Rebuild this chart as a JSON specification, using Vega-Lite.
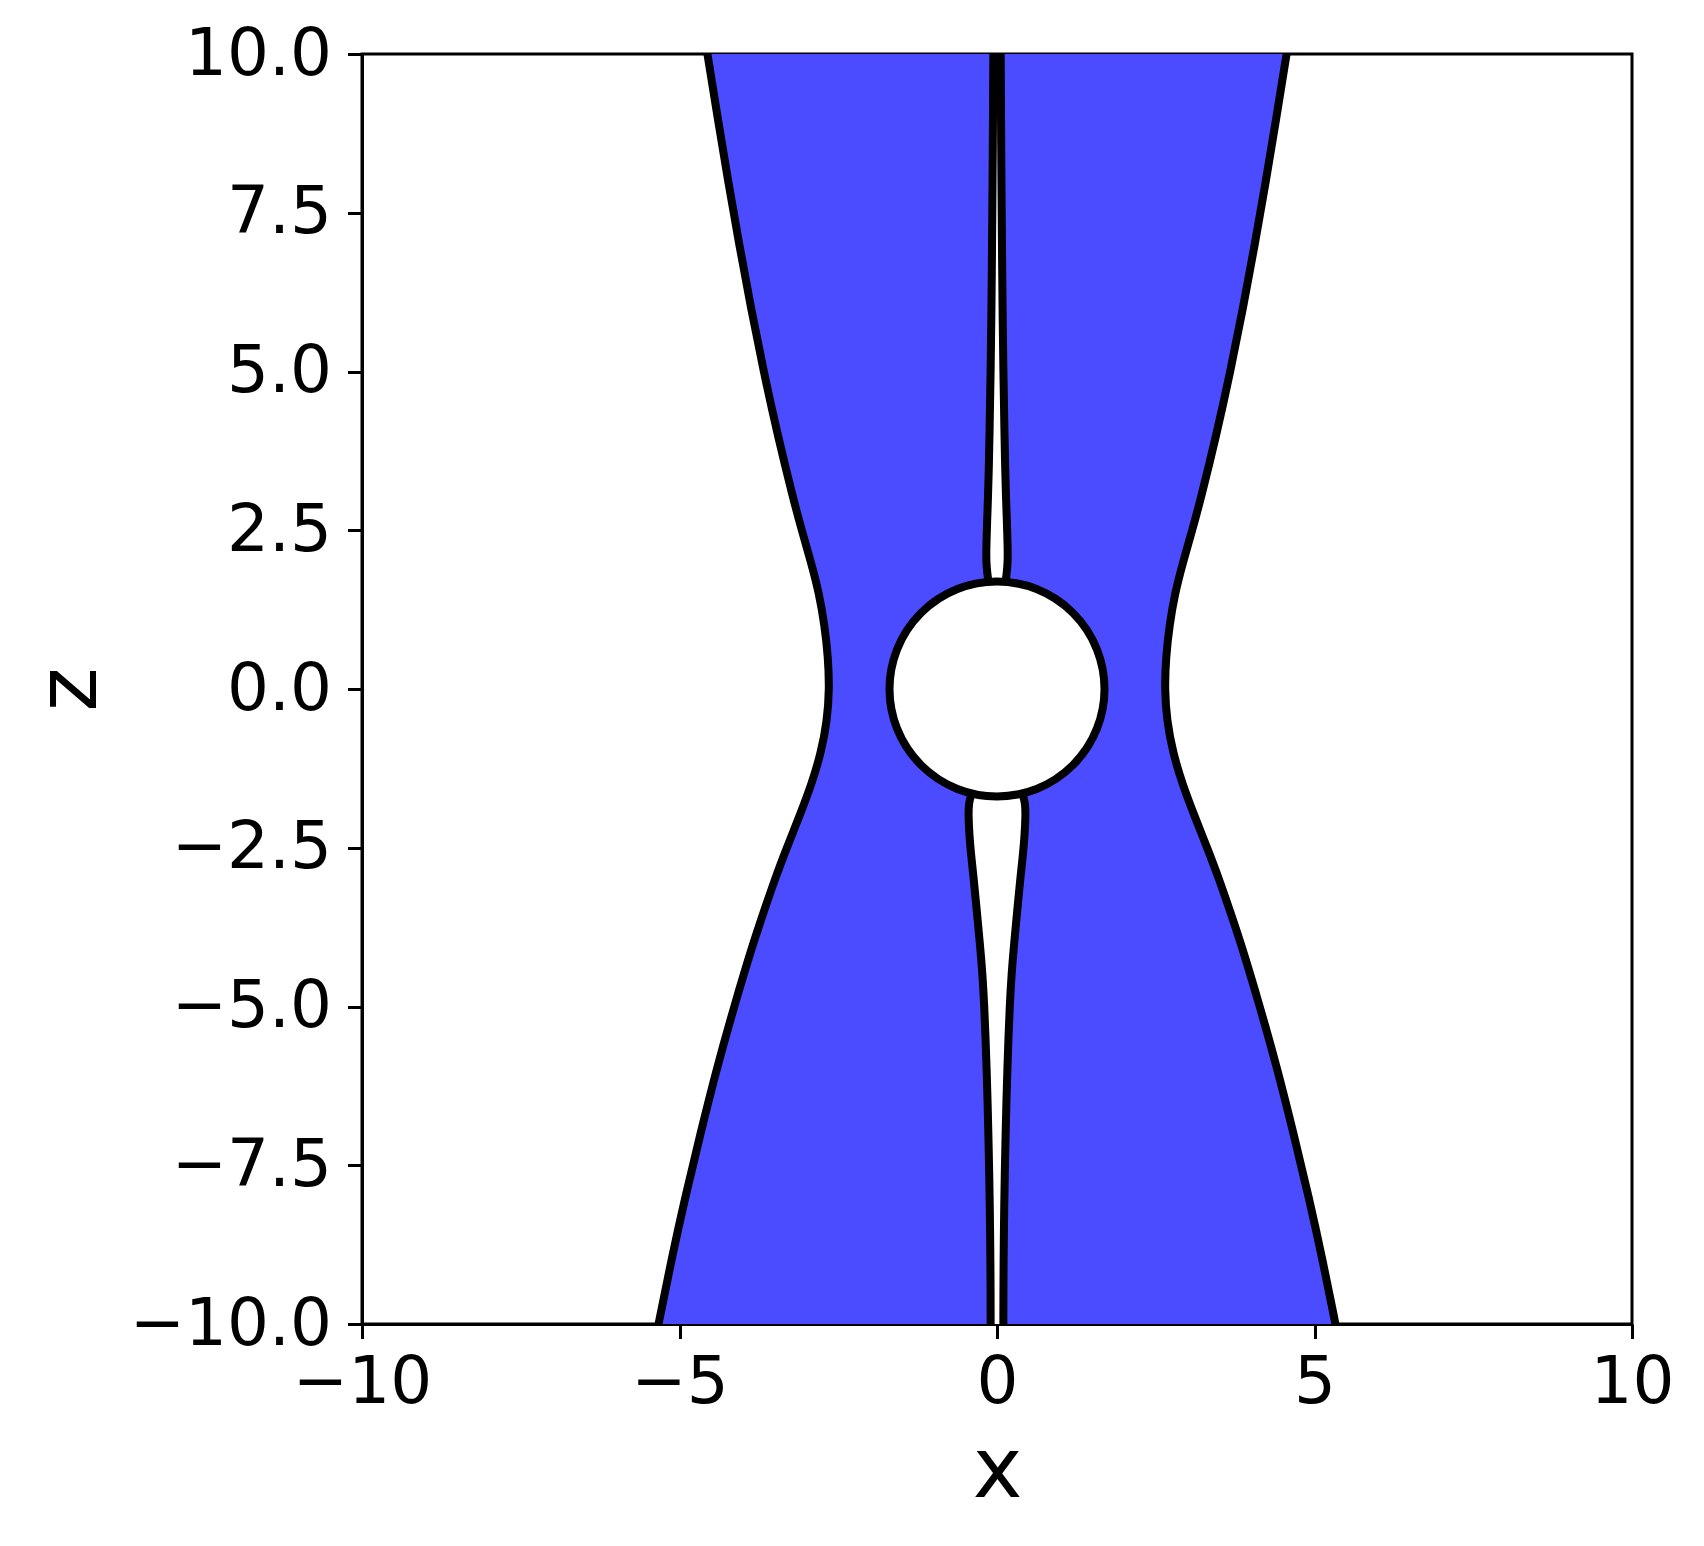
{
  "$schema": "https://vega.github.io/schema/vega-lite/v6.json",
  "width": 1270,
  "height": 1270,
  "autosize": "none",
  "padding": {"left": 362, "top": 54, "right": 72, "bottom": 222},
  "background": "white",
  "datasets": {
    "outer": [
      {"side": "left", "seq": 1, "z": -10, "x": -5.33},
      {"side": "left", "seq": 2, "z": -9, "x": -5.13},
      {"side": "left", "seq": 3, "z": -8, "x": -4.91},
      {"side": "left", "seq": 4, "z": -7, "x": -4.67},
      {"side": "left", "seq": 5, "z": -6, "x": -4.42},
      {"side": "left", "seq": 6, "z": -5, "x": -4.14},
      {"side": "left", "seq": 7, "z": -4, "x": -3.84},
      {"side": "left", "seq": 8, "z": -3.5, "x": -3.67},
      {"side": "left", "seq": 9, "z": -3, "x": -3.5},
      {"side": "left", "seq": 10, "z": -2.5, "x": -3.31},
      {"side": "left", "seq": 11, "z": -2, "x": -3.11},
      {"side": "left", "seq": 12, "z": -1.5, "x": -2.92},
      {"side": "left", "seq": 13, "z": -1, "x": -2.77},
      {"side": "left", "seq": 14, "z": -0.5, "x": -2.675},
      {"side": "left", "seq": 15, "z": 0, "x": -2.64},
      {"side": "left", "seq": 16, "z": 0.5, "x": -2.66},
      {"side": "left", "seq": 17, "z": 1, "x": -2.715},
      {"side": "left", "seq": 18, "z": 1.5, "x": -2.8},
      {"side": "left", "seq": 19, "z": 2, "x": -2.93},
      {"side": "left", "seq": 20, "z": 2.5, "x": -3.075},
      {"side": "left", "seq": 21, "z": 3, "x": -3.21},
      {"side": "left", "seq": 22, "z": 4, "x": -3.455},
      {"side": "left", "seq": 23, "z": 5, "x": -3.675},
      {"side": "left", "seq": 24, "z": 6, "x": -3.875},
      {"side": "left", "seq": 25, "z": 7, "x": -4.06},
      {"side": "left", "seq": 26, "z": 8, "x": -4.235},
      {"side": "left", "seq": 27, "z": 9, "x": -4.4},
      {"side": "left", "seq": 28, "z": 10, "x": -4.56},
      {"side": "right", "seq": 29, "z": 10, "x": 4.56},
      {"side": "right", "seq": 30, "z": 9, "x": 4.4},
      {"side": "right", "seq": 31, "z": 8, "x": 4.235},
      {"side": "right", "seq": 32, "z": 7, "x": 4.06},
      {"side": "right", "seq": 33, "z": 6, "x": 3.875},
      {"side": "right", "seq": 34, "z": 5, "x": 3.675},
      {"side": "right", "seq": 35, "z": 4, "x": 3.455},
      {"side": "right", "seq": 36, "z": 3, "x": 3.21},
      {"side": "right", "seq": 37, "z": 2.5, "x": 3.075},
      {"side": "right", "seq": 38, "z": 2, "x": 2.93},
      {"side": "right", "seq": 39, "z": 1.5, "x": 2.8},
      {"side": "right", "seq": 40, "z": 1, "x": 2.715},
      {"side": "right", "seq": 41, "z": 0.5, "x": 2.66},
      {"side": "right", "seq": 42, "z": 0, "x": 2.64},
      {"side": "right", "seq": 43, "z": -0.5, "x": 2.675},
      {"side": "right", "seq": 44, "z": -1, "x": 2.77},
      {"side": "right", "seq": 45, "z": -1.5, "x": 2.92},
      {"side": "right", "seq": 46, "z": -2, "x": 3.11},
      {"side": "right", "seq": 47, "z": -2.5, "x": 3.31},
      {"side": "right", "seq": 48, "z": -3, "x": 3.5},
      {"side": "right", "seq": 49, "z": -3.5, "x": 3.67},
      {"side": "right", "seq": 50, "z": -4, "x": 3.84},
      {"side": "right", "seq": 51, "z": -5, "x": 4.14},
      {"side": "right", "seq": 52, "z": -6, "x": 4.42},
      {"side": "right", "seq": 53, "z": -7, "x": 4.67},
      {"side": "right", "seq": 54, "z": -8, "x": 4.91},
      {"side": "right", "seq": 55, "z": -9, "x": 5.13},
      {"side": "right", "seq": 56, "z": -10, "x": 5.33}
    ],
    "slits": [
      {"part": "upper", "side": "left", "seq": 1, "z": 1.55, "x": -0.12},
      {"part": "upper", "side": "left", "seq": 2, "z": 1.65, "x": -0.13},
      {"part": "upper", "side": "left", "seq": 3, "z": 1.8, "x": -0.15},
      {"part": "upper", "side": "left", "seq": 4, "z": 1.95, "x": -0.165},
      {"part": "upper", "side": "left", "seq": 5, "z": 2.1, "x": -0.17},
      {"part": "upper", "side": "left", "seq": 6, "z": 2.3, "x": -0.166},
      {"part": "upper", "side": "left", "seq": 7, "z": 2.6, "x": -0.157},
      {"part": "upper", "side": "left", "seq": 8, "z": 3, "x": -0.142},
      {"part": "upper", "side": "left", "seq": 9, "z": 3.5, "x": -0.128},
      {"part": "upper", "side": "left", "seq": 10, "z": 4, "x": -0.118},
      {"part": "upper", "side": "left", "seq": 11, "z": 5, "x": -0.1},
      {"part": "upper", "side": "left", "seq": 12, "z": 6, "x": -0.087},
      {"part": "upper", "side": "left", "seq": 13, "z": 7, "x": -0.078},
      {"part": "upper", "side": "left", "seq": 14, "z": 8, "x": -0.07},
      {"part": "upper", "side": "left", "seq": 15, "z": 9, "x": -0.063},
      {"part": "upper", "side": "left", "seq": 16, "z": 10, "x": -0.058},
      {"part": "upper", "side": "right", "seq": 17, "z": 10, "x": 0.058},
      {"part": "upper", "side": "right", "seq": 18, "z": 9, "x": 0.063},
      {"part": "upper", "side": "right", "seq": 19, "z": 8, "x": 0.07},
      {"part": "upper", "side": "right", "seq": 20, "z": 7, "x": 0.078},
      {"part": "upper", "side": "right", "seq": 21, "z": 6, "x": 0.087},
      {"part": "upper", "side": "right", "seq": 22, "z": 5, "x": 0.1},
      {"part": "upper", "side": "right", "seq": 23, "z": 4, "x": 0.118},
      {"part": "upper", "side": "right", "seq": 24, "z": 3.5, "x": 0.128},
      {"part": "upper", "side": "right", "seq": 25, "z": 3, "x": 0.142},
      {"part": "upper", "side": "right", "seq": 26, "z": 2.6, "x": 0.157},
      {"part": "upper", "side": "right", "seq": 27, "z": 2.3, "x": 0.166},
      {"part": "upper", "side": "right", "seq": 28, "z": 2.1, "x": 0.17},
      {"part": "upper", "side": "right", "seq": 29, "z": 1.95, "x": 0.165},
      {"part": "upper", "side": "right", "seq": 30, "z": 1.8, "x": 0.15},
      {"part": "upper", "side": "right", "seq": 31, "z": 1.65, "x": 0.13},
      {"part": "upper", "side": "right", "seq": 32, "z": 1.55, "x": 0.12},
      {"part": "lower", "side": "left", "seq": 1, "z": -10, "x": -0.1},
      {"part": "lower", "side": "left", "seq": 2, "z": -9.5, "x": -0.101},
      {"part": "lower", "side": "left", "seq": 3, "z": -9, "x": -0.104},
      {"part": "lower", "side": "left", "seq": 4, "z": -8.5, "x": -0.109},
      {"part": "lower", "side": "left", "seq": 5, "z": -8, "x": -0.116},
      {"part": "lower", "side": "left", "seq": 6, "z": -7.5, "x": -0.125},
      {"part": "lower", "side": "left", "seq": 7, "z": -7, "x": -0.136},
      {"part": "lower", "side": "left", "seq": 8, "z": -6.5, "x": -0.148},
      {"part": "lower", "side": "left", "seq": 9, "z": -6, "x": -0.163},
      {"part": "lower", "side": "left", "seq": 10, "z": -5.5, "x": -0.18},
      {"part": "lower", "side": "left", "seq": 11, "z": -5, "x": -0.2},
      {"part": "lower", "side": "left", "seq": 12, "z": -4.5, "x": -0.228},
      {"part": "lower", "side": "left", "seq": 13, "z": -4, "x": -0.27},
      {"part": "lower", "side": "left", "seq": 14, "z": -3.5, "x": -0.318},
      {"part": "lower", "side": "left", "seq": 15, "z": -3, "x": -0.365},
      {"part": "lower", "side": "left", "seq": 16, "z": -2.6, "x": -0.41},
      {"part": "lower", "side": "left", "seq": 17, "z": -2.3, "x": -0.435},
      {"part": "lower", "side": "left", "seq": 18, "z": -2, "x": -0.45},
      {"part": "lower", "side": "left", "seq": 19, "z": -1.8, "x": -0.445},
      {"part": "lower", "side": "left", "seq": 20, "z": -1.68, "x": -0.41},
      {"part": "lower", "side": "left", "seq": 21, "z": -1.55, "x": -0.36},
      {"part": "lower", "side": "right", "seq": 22, "z": -1.55, "x": 0.36},
      {"part": "lower", "side": "right", "seq": 23, "z": -1.68, "x": 0.41},
      {"part": "lower", "side": "right", "seq": 24, "z": -1.8, "x": 0.445},
      {"part": "lower", "side": "right", "seq": 25, "z": -2, "x": 0.45},
      {"part": "lower", "side": "right", "seq": 26, "z": -2.3, "x": 0.435},
      {"part": "lower", "side": "right", "seq": 27, "z": -2.6, "x": 0.41},
      {"part": "lower", "side": "right", "seq": 28, "z": -3, "x": 0.365},
      {"part": "lower", "side": "right", "seq": 29, "z": -3.5, "x": 0.318},
      {"part": "lower", "side": "right", "seq": 30, "z": -4, "x": 0.27},
      {"part": "lower", "side": "right", "seq": 31, "z": -4.5, "x": 0.228},
      {"part": "lower", "side": "right", "seq": 32, "z": -5, "x": 0.2},
      {"part": "lower", "side": "right", "seq": 33, "z": -5.5, "x": 0.18},
      {"part": "lower", "side": "right", "seq": 34, "z": -6, "x": 0.163},
      {"part": "lower", "side": "right", "seq": 35, "z": -6.5, "x": 0.148},
      {"part": "lower", "side": "right", "seq": 36, "z": -7, "x": 0.136},
      {"part": "lower", "side": "right", "seq": 37, "z": -7.5, "x": 0.125},
      {"part": "lower", "side": "right", "seq": 38, "z": -8, "x": 0.116},
      {"part": "lower", "side": "right", "seq": 39, "z": -8.5, "x": 0.109},
      {"part": "lower", "side": "right", "seq": 40, "z": -9, "x": 0.104},
      {"part": "lower", "side": "right", "seq": 41, "z": -9.5, "x": 0.101},
      {"part": "lower", "side": "right", "seq": 42, "z": -10, "x": 0.1}
    ],
    "sphere": [{"x": 0, "z": 0}]
  },
  "layer": [
    {
      "data": {"name": "outer"},
      "mark": {"type": "line", "filled": true, "fill": "#4b4bff", "fillOpacity": 1, "strokeWidth": 0, "interpolate": "linear", "clip": true},
      "encoding": {
        "y": {"field": "z", "type": "quantitative", "scale": {"domain": [-10, 10], "nice": false, "zero": false},
              "axis": {"title": "z", "values": [-10, -7.5, -5, -2.5, 0, 2.5, 5, 7.5, 10], "format": ".1f", "labelPadding": 16, "titlePadding": 49}},
        "x": {"field": "x", "type": "quantitative", "scale": {"domain": [-10, 10], "nice": false, "zero": false},
              "axis": {"title": "x", "values": [-10, -5, 0, 5, 10], "format": "d", "labelPadding": 12, "titlePadding": 15}},
        "order": {"field": "seq", "type": "quantitative"}
      }
    },
    {
      "data": {"name": "slits"},
      "mark": {"type": "line", "filled": true, "fill": "white", "fillOpacity": 1, "strokeWidth": 0, "interpolate": "linear", "clip": true},
      "encoding": {
        "y": {"field": "z", "type": "quantitative"},
        "x": {"field": "x", "type": "quantitative"},
        "detail": {"field": "part"},
        "order": {"field": "seq", "type": "quantitative"}
      }
    },
    {
      "data": {"name": "slits"},
      "mark": {"type": "line", "color": "black", "strokeWidth": 8, "interpolate": "basis", "clip": true},
      "encoding": {
        "y": {"field": "z", "type": "quantitative"},
        "x": {"field": "x", "type": "quantitative"},
        "detail": [{"field": "part"}, {"field": "side"}],
        "order": {"field": "seq", "type": "quantitative"}
      }
    },
    {
      "data": {"name": "outer"},
      "mark": {"type": "line", "color": "black", "strokeWidth": 8, "interpolate": "basis", "clip": true},
      "encoding": {
        "y": {"field": "z", "type": "quantitative"},
        "x": {"field": "x", "type": "quantitative"},
        "detail": {"field": "side"},
        "order": {"field": "seq", "type": "quantitative"}
      }
    },
    {
      "data": {"name": "sphere"},
      "mark": {"type": "point", "shape": "circle", "filled": true, "fill": "white", "stroke": "black", "strokeWidth": 8, "opacity": 1, "fillOpacity": 1, "size": 46225},
      "encoding": {
        "y": {"field": "z", "type": "quantitative"},
        "x": {"field": "x", "type": "quantitative"}
      }
    }
  ],
  "config": {
    "view": {"stroke": "black", "strokeWidth": 3},
    "axis": {
      "grid": false,
      "domainColor": "black",
      "domainWidth": 3,
      "tickColor": "black",
      "tickWidth": 3,
      "tickSize": 14.5,
      "labelFont": "DejaVu Sans",
      "labelFontSize": 66,
      "labelColor": "black",
      "labelLimit": 0,
      "labelOverlap": false,
      "labelFlush": false,
      "labelBound": false,
      "titleFont": "DejaVu Sans",
      "titleFontSize": 84,
      "titleFontWeight": "normal",
      "titleColor": "black"
    }
  }
}
